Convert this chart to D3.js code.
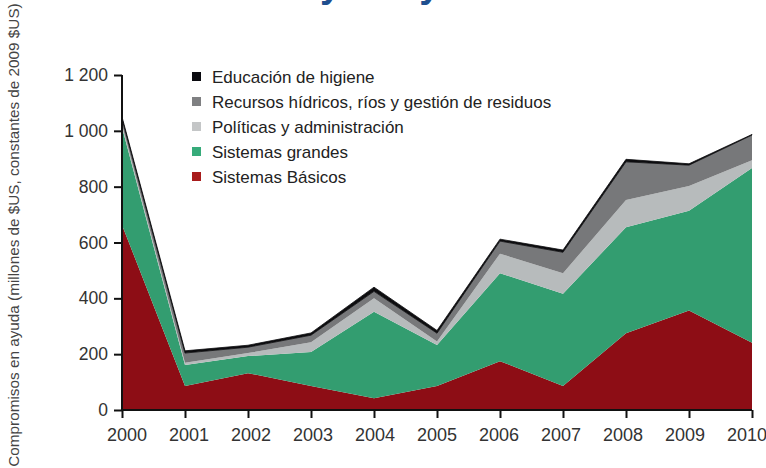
<!DOCTYPE html>
<html>
<head>
<meta charset="utf-8">
<script src="https://cdn.jsdelivr.net/npm/d3@7"></script>
<style>
  body { margin: 0; background: #fff; }
  svg { display: block; font-family: "Liberation Sans", Arial, sans-serif; }
</style>
</head>
<body>
<div id="chart"></div>
<script>
// values, millions of 2009 $US
const years = [2000, 2001, 2002, 2003, 2004, 2005, 2006, 2007, 2008, 2009, 2010];
const sistemasBasicos = [663, 86, 132, 86, 42, 86, 175, 86, 275, 356, 241];
const sistemasGrandes = [350, 75, 61, 122, 310, 147, 315, 330, 380, 358, 626];
const politicas = [10, 8, 11, 35, 48, 12, 70, 74, 97, 88, 28];
const recursosHidricos = [20, 35, 21, 25, 25, 30, 45, 75, 137, 75, 90];
const educacion = [7, 8, 7, 8, 15, 10, 7, 8, 9, 5, 2];

const yTicks = [0, 200, 400, 600, 800, 1000, 1200];

const seriesNames = ["Sistemas Básicos", "Sistemas grandes", "Políticas y administración",
  "Recursos hídricos, ríos y gestión de residuos", "Educación de higiene"];
const seriesValues = [sistemasBasicos, sistemasGrandes, politicas, recursosHidricos, educacion];
const colors = ["#8d0d15", "#339d70", "#b7bbbc", "#77787a", "#0d0d0f"];
const legendColors = ["#a81c1c", "#36ab7a", "#c4c6c7", "#7f8082", "#0a0a0f"];

const width = 766, height = 468;

const rows = years.map((y, i) => {
  const r = { year: y };
  seriesNames.forEach((n, k) => r[n] = seriesValues[k][i]);
  return r;
});

const svg = d3.select("#chart").append("svg")
  .attr("width", width)
  .attr("height", height);

const x = d3.scaleLinear().domain([2000, 2010]).range([122, 752]);
const y = d3.scaleLinear().domain([0, 1200]).range([410, 75]);

const stacked = d3.stack().keys(seriesNames)(rows);

const area = d3.area()
  .x(d => x(d.data.year))
  .y0(d => y(d[0]))
  .y1(d => y(d[1]));

svg.append("g").selectAll("path")
  .data(stacked)
  .enter().append("path")
  .attr("fill", (d, i) => colors[i])
  .attr("stroke", (d, i) => i === 4 ? colors[i] : "none")
  .attr("stroke-width", 0.8)
  .attr("d", area);

// title, cut off by the top edge in the source picture
svg.append("text")
  .attr("x", 294)
  .attr("y", -3)
  .attr("font-size", 38)
  .attr("font-weight", "bold")
  .attr("fill", "#1f4f8f")
  .text("Ayuda y saneamiento");

const fmt = d3.formatLocale({ decimal: ".", thousands: " ", grouping: [3], currency: ["", ""] }).format(",");

const yAxis = svg.append("g")
  .attr("transform", "translate(122,0)")
  .call(d3.axisLeft(y).tickValues(yTicks).tickSize(8).tickPadding(6).tickFormat(fmt));

const xAxis = svg.append("g")
  .attr("transform", "translate(0,410)")
  .call(d3.axisBottom(x).tickValues(years).tickSize(8).tickPadding(10).tickFormat(d3.format("d")));

[yAxis, xAxis].forEach(a => {
  a.select(".domain").attr("stroke", "#111").attr("stroke-width", 2);
  a.selectAll(".tick line").attr("stroke", "#111").attr("stroke-width", 2);
  a.selectAll(".tick text").attr("fill", "#333")
    .attr("font-family", "'Liberation Sans', Arial, sans-serif");
});
yAxis.selectAll(".tick text").attr("font-size", 17.5);
// year labels sit a bit tighter than the ticks
xAxis.selectAll(".tick text").attr("font-size", 18).attr("x", (d, i) => 4.5 - i * 1.0);
yAxis.select(".domain").attr("d", "M-0,410V75");
xAxis.select(".domain").attr("d", "M122,0H752");

svg.append("text")
  .attr("transform", "translate(19,235) rotate(-90)")
  .attr("text-anchor", "middle")
  .attr("font-size", 15.3)
  .attr("fill", "#444")
  .text("Compromisos en ayuda (millones de $US, constantes de 2009 $US)");

// legend, top item first
const legendOrder = [4, 3, 2, 1, 0];
const legend = svg.append("g").selectAll("g")
  .data(legendOrder)
  .enter().append("g")
  .attr("transform", (d, i) => `translate(192,${77 + i * 25})`);

legend.append("rect")
  .attr("x", 0).attr("y", -5)
  .attr("width", 9).attr("height", 9)
  .attr("fill", d => legendColors[d]);

legend.append("text")
  .attr("x", 20).attr("y", 0)
  .attr("dy", "0.35em")
  .attr("font-size", 17)
  .attr("fill", "#222")
  .text(d => seriesNames[d]);
</script>
</body>
</html>
